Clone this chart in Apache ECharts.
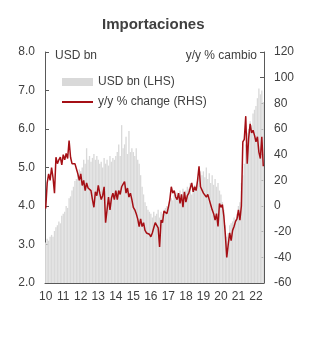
<!DOCTYPE html>
<html>
<head>
<meta charset="utf-8">
<script src="https://cdn.jsdelivr.net/npm/echarts@6/dist/echarts.min.js"></script>
<style>
html,body{margin:0;padding:0;background:#fff;}
#c{width:333px;height:337px;}
</style>
</head>
<body>
<div id="c"></div>
<script>
// Year tick labels (one per January)
var yearLabels = ['10','11','12','13','14','15','16','17','18','19','20','21','22'];

// Imports, USD bn (monthly, Jan 2010 - Jun 2022)
var imports2010 = [3.05,3.15,3.1,3.2,3.25,3.2,3.35,3.45,3.5,3.6,3.55,3.75];
var imports2011 = [3.8,3.85,4.0,3.95,4.2,4.25,4.4,4.5,4.65,4.7,4.85,4.95];
var imports2012 = [4.9,5.0,5.2,5.1,5.5,5.2,5.3,5.15,5.25,5.35,5.2,5.3];
var imports2013 = [5.2,5.1,5.15,5.0,5.25,5.1,5.2,5.05,5.3,5.15,5.25,5.2];
var imports2014 = [5.3,5.4,5.6,5.3,6.1,5.5,5.6,5.8,5.35,5.95,5.4,5.5];
var imports2015 = [5.4,5.3,5.5,5.2,5.1,4.8,4.5,4.3,4.1,4.0,3.9,3.85];
var imports2016 = [3.8,3.7,3.85,3.75,3.8,3.9,3.7,3.85,3.8,3.9,3.95,4.0];
var imports2017 = [4.0,4.1,4.2,4.15,4.3,4.2,4.35,4.25,4.4,4.3,4.45,4.35];
var imports2018 = [4.4,4.5,4.45,4.6,4.3,4.5,4.55,4.4,4.6,4.75,4.9,4.8];
var imports2019 = [4.9,4.75,5.0,4.7,4.85,4.6,4.8,4.55,4.7,4.5,4.6,4.4];
var imports2020 = [4.3,4.1,3.9,3.5,3.2,3.3,3.5,3.55,3.6,3.7,3.65,3.8];
var imports2021 = [4.0,4.1,4.6,4.8,5.1,5.6,5.9,6.0,6.2,6.1,6.4,6.5];
var imports2022 = [6.6,6.8,7.05,6.9,7.0,6.7];

// y/y % change (monthly, Jan 2010 - Jun 2022)
var yoy2010 = [-2,18,25,20,30,22,10,38,33,36,38,32];
var yoy2011 = [40,36,41,37,51,38,33,32,33,29,25,20];
var yoy2012 = [25,16,20,12,18,14,15,12,5,-1,11,8];
var yoy2013 = [16,10,5,8,15,-13,-3,7,-3,6,10,5];
var yoy2014 = [12,5,12,9,15,17,19,10,14,7,10,5];
var yoy2015 = [-1,-3,-6,-10,-16,-10,-16,-13,-19,-21,-20,-22];
var yoy2016 = [-24,-21,-17,-13,-13,-17,-32,-11,-13,-4,-3,-6];
var yoy2017 = [-1,5,15,10,12,7,5,10,2,9,-1,11];
var yoy2018 = [3,8,10,14,18,11,15,12,20,31,15,14];
var yoy2019 = [10,11,7,9,5,1,-3,-6,-11,-6,-16,2];
var yoy2020 = [-1,1,-8,-22,-40,-30,-21,-27,-19,-16,-12,-10];
var yoy2021 = [-3,-11,0,50,52,70,33,53,64,57,59,55];
var yoy2022 = [50,54,42,37,54,31];

var imports = [].concat(imports2010,imports2011,imports2012,imports2013,imports2014,imports2015,imports2016,imports2017,imports2018,imports2019,imports2020,imports2021,imports2022);
var yoy = [].concat(yoy2010,yoy2011,yoy2012,yoy2013,yoy2014,yoy2015,yoy2016,yoy2017,yoy2018,yoy2019,yoy2020,yoy2021,yoy2022);

var months = [];
for (var i = 0; i < imports.length; i++) {
  months.push(yearLabels[Math.floor(i / 12)] + '-' + (i % 12 + 1));
}

var txt = '#404040';
var axisCol = '#595959';
var font = 'Liberation Sans, Arial, sans-serif';

var chart = echarts.init(document.getElementById('c'), null, {renderer: 'canvas'});
chart.setOption({
  animation: false,
  backgroundColor: '#ffffff',
  title: {
    text: 'Importaciones',
    left: 97,
    top: 12,
    textStyle: {fontFamily: font, fontSize: 15, fontWeight: 'bold', color: txt}
  },
  legend: {
    orient: 'vertical',
    left: 56,
    top: 71,
    itemWidth: 31,
    itemHeight: 8,
    itemGap: 8,
    textStyle: {fontFamily: font, fontSize: 12, color: txt},
    data: [
      {name: 'USD bn (LHS)', icon: 'rect'},
      {name: 'y/y % change (RHS)', itemStyle: {opacity: 0}}
    ]
  },
  graphic: [
    {type: 'text', left: 55, top: 50, style: {text: 'USD bn', fontFamily: font, fontSize: 12, fill: txt}},
    {type: 'text', right: 76, top: 50, style: {text: 'y/y % cambio', fontFamily: font, fontSize: 12, fill: txt}}
  ],
  grid: {left: 45, right: 69, top: 52, bottom: 54},
  xAxis: {
    type: 'category',
    data: months,
    boundaryGap: true,
    axisLine: {onZero: false, lineStyle: {color: axisCol, width: 1}},
    axisTick: {show: false},
    axisLabel: {
      interval: function (idx) { return idx % 12 === 0; },
      formatter: function (v, idx) { return yearLabels[Math.floor(idx / 12)]; },
      fontFamily: font, fontSize: 12, color: txt, margin: 8
    },
    splitLine: {show: false}
  },
  yAxis: [
    {
      type: 'value', min: 2, max: 8, interval: 1, position: 'left',
      axisLine: {show: true, lineStyle: {color: axisCol}},
      axisTick: {show: true, inside: true, length: 4, lineStyle: {color: axisCol}},
      axisLabel: {formatter: function (v) { return v.toFixed(1); }, fontFamily: font, fontSize: 12, color: txt, margin: 10},
      splitLine: {show: false}
    },
    {
      type: 'value', min: -60, max: 120, interval: 20, position: 'right',
      axisLine: {show: true, lineStyle: {color: axisCol}},
      axisTick: {show: true, inside: true, length: 4, lineStyle: {color: axisCol}},
      axisLabel: {fontFamily: font, fontSize: 12, color: txt, margin: 10},
      splitLine: {show: false}
    }
  ],
  series: [
    {
      name: 'USD bn (LHS)',
      type: 'bar',
      yAxisIndex: 0,
      data: imports,
      barCategoryGap: '8%',
      itemStyle: {color: '#d9d9d9'},
      z: 1
    },
    {
      name: 'y/y % change (RHS)',
      type: 'line',
      yAxisIndex: 1,
      data: yoy,
      symbol: 'none',
      lineStyle: {color: '#a50f15', width: 1.5},
      itemStyle: {color: '#a50f15'},
      z: 3
    }
  ]
});
</script>
</body>
</html>
